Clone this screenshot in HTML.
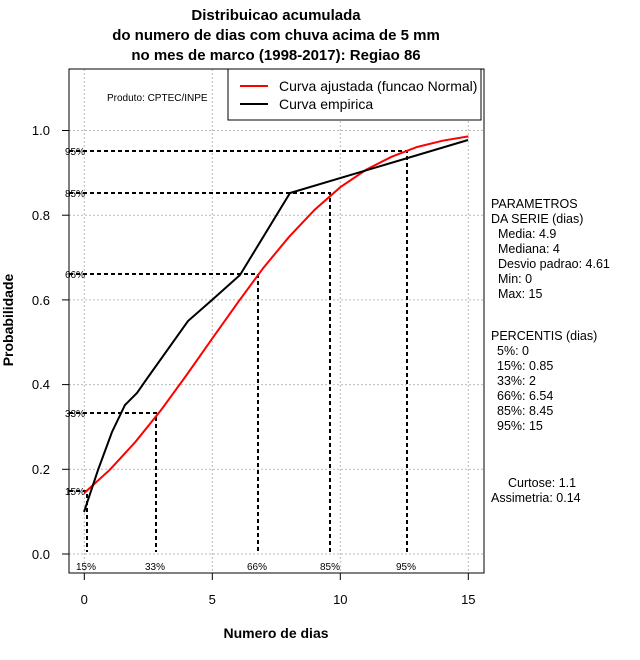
<!DOCTYPE html>
<html><head><meta charset="utf-8"><style>
html,body{margin:0;padding:0;background:#fff;}
svg{display:block;font-family:"Liberation Sans",sans-serif;}
</style></head><body>
<svg width="640" height="660" viewBox="0 0 640 660" xmlns="http://www.w3.org/2000/svg">
<g font-weight="bold" font-size="15" text-anchor="middle" fill="#000">
<text x="276" y="20">Distribuicao acumulada</text>
<text x="276" y="40">do numero de dias com chuva acima de 5 mm</text>
<text x="276" y="60">no mes de marco (1998-2017): Regiao 86</text>
</g>
<g stroke="#bbb" stroke-width="1" stroke-dasharray="2,2">
<line x1="84.3" y1="69" x2="84.3" y2="573"/><line x1="212.3" y1="69" x2="212.3" y2="573"/>
<line x1="340.3" y1="69" x2="340.3" y2="573"/><line x1="468.3" y1="69" x2="468.3" y2="573"/>
<line x1="69" y1="554" x2="484" y2="554"/><line x1="69" y1="469.3" x2="484" y2="469.3"/>
<line x1="69" y1="384.6" x2="484" y2="384.6"/><line x1="69" y1="299.9" x2="484" y2="299.9"/>
<line x1="69" y1="215.2" x2="484" y2="215.2"/><line x1="69" y1="130.5" x2="484" y2="130.5"/>
</g>
<rect x="69" y="69" width="415" height="504" fill="none" stroke="#000" stroke-width="1"/>
<g stroke="#000" stroke-width="1">
<line x1="84.3" y1="573" x2="468.3" y2="573"/>
<line x1="84.3" y1="573" x2="84.3" y2="580"/><line x1="212.3" y1="573" x2="212.3" y2="580"/>
<line x1="340.3" y1="573" x2="340.3" y2="580"/><line x1="468.3" y1="573" x2="468.3" y2="580"/>
<line x1="62" y1="554" x2="69" y2="554"/><line x1="62" y1="469.3" x2="69" y2="469.3"/>
<line x1="62" y1="384.6" x2="69" y2="384.6"/><line x1="62" y1="299.9" x2="69" y2="299.9"/>
<line x1="62" y1="215.2" x2="69" y2="215.2"/><line x1="62" y1="130.5" x2="69" y2="130.5"/>
</g>
<g font-size="13" text-anchor="middle">
<text x="84.3" y="604">0</text><text x="212.3" y="604">5</text><text x="340.3" y="604">10</text><text x="468.3" y="604">15</text>
</g>
<g font-size="13" text-anchor="end">
<text x="50" y="559">0.0</text><text x="50" y="474">0.2</text><text x="50" y="389">0.4</text>
<text x="50" y="305">0.6</text><text x="50" y="220">0.8</text><text x="50" y="135">1.0</text>
</g>
<text x="276" y="638" font-size="14" font-weight="bold" text-anchor="middle">Numero de dias</text>
<text transform="translate(13,320) rotate(-90)" font-size="14" font-weight="bold" text-anchor="middle">Probabilidade</text>
<g stroke="#000" stroke-width="2" stroke-dasharray="4,3" fill="none">
<polyline points="69,151 407,151 407,552"/>
<polyline points="69,193 330,193 330,552"/>
<polyline points="69,274 258,274 258,552"/>
<polyline points="69,413 156,413 156,552"/>
<polyline points="69,491 87,491 87,552"/>
</g>
<g font-size="10" fill="#000">
<text x="65" y="155">95%</text><text x="65" y="197">85%</text><text x="65" y="278">66%</text>
<text x="65" y="417">33%</text><text x="65" y="495">15%</text>
</g>
<g font-size="10" text-anchor="middle">
<text x="86" y="570">15%</text><text x="155" y="570">33%</text><text x="257" y="570">66%</text>
<text x="330" y="570">85%</text><text x="406" y="570">95%</text>
</g>
<polyline fill="none" stroke="#f00" stroke-width="2" points="84.3,493 109.9,469.7 135.5,441.8 161.1,410 186.7,374.9 212.3,338.4 237.9,302.4 263.5,267.7 289.1,236.8 314.7,209.7 340.3,187.2 365.9,169.9 391.5,156.8 417.1,147 442.7,140.7 468.3,136.4"/>
<polyline fill="none" stroke="#000" stroke-width="2" points="84,512 98,470 112,432 125,405 137,393 146,380 188,321 212,300 240,275 290,193 468,140"/>
<text x="107" y="101" font-size="10">Produto: CPTEC/INPE</text>
<rect x="228" y="69" width="253" height="51" fill="#fff" stroke="#000" stroke-width="1"/>
<line x1="240" y1="86" x2="268" y2="86" stroke="#f00" stroke-width="2"/>
<line x1="240" y1="104" x2="268" y2="104" stroke="#000" stroke-width="2"/>
<g font-size="14"><text x="279" y="91">Curva ajustada (funcao Normal)</text><text x="279" y="109">Curva empirica</text></g>
<g font-size="12.5" fill="#000">
<text x="491" y="208">PARAMETROS</text>
<text x="491" y="223">DA SERIE (dias)</text>
<text x="498" y="238">Media: 4.9</text>
<text x="498" y="253">Mediana: 4</text>
<text x="498" y="268">Desvio padrao: 4.61</text>
<text x="498" y="283">Min: 0</text>
<text x="498" y="298">Max: 15</text>
<text x="491" y="340">PERCENTIS (dias)</text>
<text x="497" y="355">5%: 0</text>
<text x="497" y="370">15%: 0.85</text>
<text x="497" y="385">33%: 2</text>
<text x="497" y="400">66%: 6.54</text>
<text x="497" y="415">85%: 8.45</text>
<text x="497" y="430">95%: 15</text>
<text x="508" y="487">Curtose: 1.1</text>
<text x="491" y="502">Assimetria: 0.14</text>
</g>
</svg>
</body></html>
